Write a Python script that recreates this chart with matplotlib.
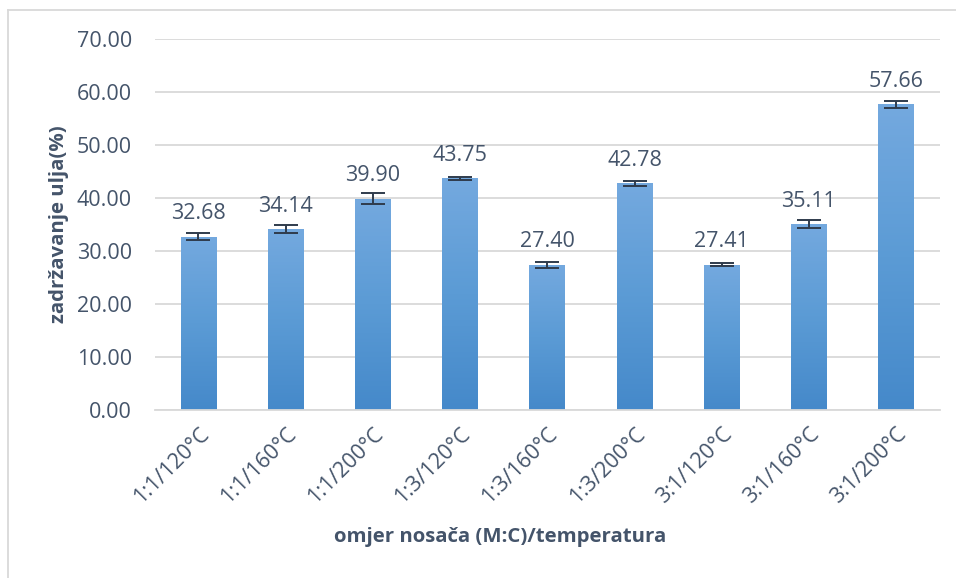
import numpy as np
import matplotlib.pyplot as plt
from matplotlib.colors import LinearSegmentedColormap
from matplotlib.lines import Line2D

# Data
categories = ["1:1/120°C", "1:1/160°C", "1:1/200°C",
              "1:3/120°C", "1:3/160°C", "1:3/200°C",
              "3:1/120°C", "3:1/160°C", "3:1/200°C"]
retention = [32.68, 34.14, 39.90, 43.75, 27.40, 42.78, 27.41, 35.11, 57.66]
errors = [0.7, 0.7, 1.1, 0.3, 0.6, 0.5, 0.3, 0.7, 0.6]

text_col = "#44546A"
fs = 15.5
plt.rcParams['font.family'] = ['Open Sans', 'DejaVu Sans']

fig = plt.figure(figsize=(9.56, 5.78), dpi=100)
ax = fig.add_axes([0.162, 0.2907, 0.821, 0.6418])

x = np.arange(len(categories))
bars = ax.bar(x, retention, width=0.41, color="#5B9BD5", zorder=2)

# vertical gradient for each bar
cmap = LinearSegmentedColormap.from_list("grad", ["#4589CA", "#5B9BD5", "#74A9DF"])
grad = np.linspace(0, 1, 256).reshape(-1, 1)
for bar in bars:
    x0, w, h = bar.get_x(), bar.get_width(), bar.get_height()
    im = ax.imshow(grad, cmap=cmap, origin="lower", aspect="auto",
                   extent=[x0, x0 + w, 0, h], zorder=2.5)
    im.set_clip_path(bar)

ax.errorbar(x, retention, yerr=errors, fmt="none", ecolor="#2F3B4C",
            elinewidth=1.4, capsize=8.5, capthick=1.4, zorder=4)

for xi, v in zip(x, retention):
    ax.annotate(f"{v:.2f}", (xi, v), xytext=(0, 12.5), textcoords="offset points",
                ha="center", va="baseline", fontsize=fs, color=text_col, zorder=5)

ax.set_xlim(-0.5, len(categories) - 0.5)
ax.set_ylim(0, 70)
ax.set_yticks(np.arange(0, 71, 10))
ax.set_yticklabels([f"{t:.2f}" for t in np.arange(0, 71, 10)])
ax.set_xticks(x)
ax.set_xticklabels(categories, rotation=45, ha="right", rotation_mode="anchor")

ax.grid(axis="y", color="#D9D9D9", linewidth=1.3, zorder=0)
ax.set_axisbelow(True)
for s in ["top", "right", "left"]:
    ax.spines[s].set_visible(False)
ax.spines["bottom"].set_color("#D9D9D9")
ax.spines["bottom"].set_linewidth(1.3)
ax.tick_params(axis="both", length=0, labelsize=fs, labelcolor=text_col)
ax.tick_params(axis="y", pad=16.5)
ax.tick_params(axis="x", pad=10)

ax.set_xlabel("omjer nosača (M:C)/temperatura", fontsize=14.7, fontweight="bold",
              color=text_col, va="center")
ax.xaxis.set_label_coords(500 / 956, 1 - 537 / 578, transform=fig.transFigure)
ax.set_ylabel("zadržavanje ulja(%)", fontsize=14.7, fontweight="bold",
              color=text_col, va="center")
ax.yaxis.set_label_coords(59 / 956, 1 - 224 / 578, transform=fig.transFigure)

# chart frame (left and top edges visible)
fig.add_artist(Line2D([8 / 956, 8 / 956], [0, 1 - 10 / 578], color="#D9D9D9",
                      linewidth=1.3, transform=fig.transFigure))
fig.add_artist(Line2D([8 / 956, 1], [1 - 10 / 578, 1 - 10 / 578], color="#D9D9D9",
                      linewidth=1.3, transform=fig.transFigure))

fig.savefig("out.png", dpi=100)
